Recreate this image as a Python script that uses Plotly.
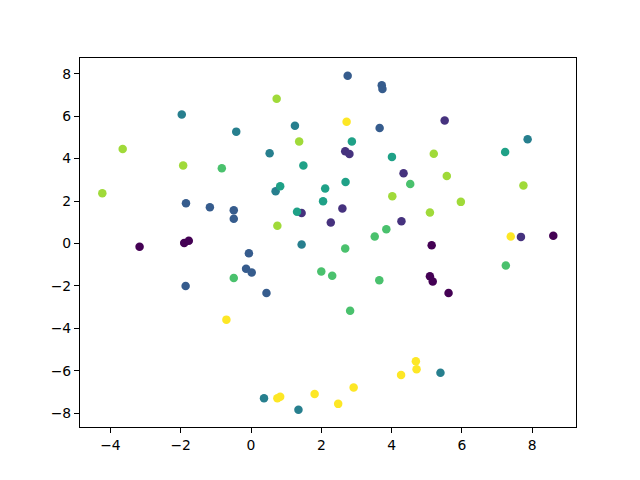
import plotly.graph_objects as go

# cluster label of every point (0..7), and the x / y values
labels = [0] * 8 + [1] * 9 + [2] * 13 + [3] * 10 + [4] * 9 + [5] * 11 + [6] * 12 + [7] * 11

x_vals = [
    # 0
    -3.17, -1.90, -1.77, 5.14, 5.09, 5.17, 5.62, 8.60,
    # 1
    2.68, 2.80, 4.34, 2.60, 1.44, 2.27, 4.28, 5.51, 7.68,
    # 2
    -1.85, -1.17, -0.49, -0.49, -0.06, -0.14, 0.02, -1.86, 2.75, 3.72, 3.74, 3.66, 0.44,
    # 3
    -1.97, -0.42, 1.25, 0.53, 0.70, 1.44, 0.37, 1.35, 5.39, 7.87,
    # 4
    2.87, 4.01, 1.49, 0.83, 2.11, 2.69, 2.05, 1.31, 7.23,
    # 5
    -0.83, -0.49, 4.53, 3.85, 3.52, 2.68, 2.00, 2.31, 3.65, 2.82, 7.25,
    # 6
    -3.65, -1.93, -4.23, 0.73, 1.37, 4.02, 0.75, 5.20, 5.57, 7.75, 5.97, 5.09,
    # 7
    -0.70, 2.72, 0.75, 0.83, 1.81, 2.48, 2.92, 4.27, 4.69, 4.71, 7.39,
]

y_vals = [
    # 0
    -0.15, 0.02, 0.13, -0.09, -1.55, -1.79, -2.34, 0.36,
    # 1
    4.34, 4.22, 3.31, 1.65, 1.43, 0.99, 1.05, 5.79, 0.31,
    # 2
    1.90, 1.71, 1.57, 1.16, -0.46, -1.19, -1.37, -2.01, 7.90, 7.46, 7.28, 5.44, -2.34,
    # 3
    6.08, 5.27, 5.55, 4.25, 2.46, -0.05, -7.29, -7.84, -6.09, 4.91,
    # 4
    4.81, 4.08, 3.67, 2.70, 2.59, 2.90, 1.99, 1.49, 4.31,
    # 5
    3.54, -1.63, 2.80, 0.67, 0.33, -0.24, -1.32, -1.52, -1.73, -3.17, -1.04,
    # 6
    4.45, 3.67, 2.37, 6.82, 4.81, 2.23, 0.83, 4.23, 3.18, 2.73, 1.96, 1.46,
    # 7
    -3.59, 5.74, -7.29, -7.22, -7.09, -7.56, -6.79, -6.20, -5.55, -5.93, 0.33,
]

# viridis sampled at 8 evenly spaced points
palette = ['#440154', '#46327e', '#365c8d', '#277f8e',
           '#1fa187', '#4ac16d', '#a0da39', '#fde725']

fig = go.Figure()

fig.add_trace(go.Scatter(
    x=x_vals,
    y=y_vals,
    mode='markers',
    marker=dict(color=[palette[k] for k in labels], size=8.5, line=dict(width=0)),
    showlegend=False,
    hoverinfo='x+y'
))

axis_style = dict(
    showgrid=False,
    zeroline=False,
    showline=True,
    linecolor='black',
    linewidth=1.1,
    mirror=True,
    ticks='outside',
    ticklen=5,
    tickwidth=1.1,
    tickcolor='black',
    dtick=2,
    tick0=0,
    tickfont=dict(family='DejaVu Sans', size=13.9, color='black'),
)

# the page body adds an 8px offset, so margins are shifted to compensate
fig.update_layout(
    width=640,
    height=480,
    margin=dict(l=72, r=72, t=50, b=61),
    paper_bgcolor='white',
    plot_bgcolor='white',
    xaxis=dict(range=[-4.865, 9.246], **axis_style),
    yaxis=dict(range=[-8.65, 8.74], **axis_style),
)

fig.write_html("out.html")
